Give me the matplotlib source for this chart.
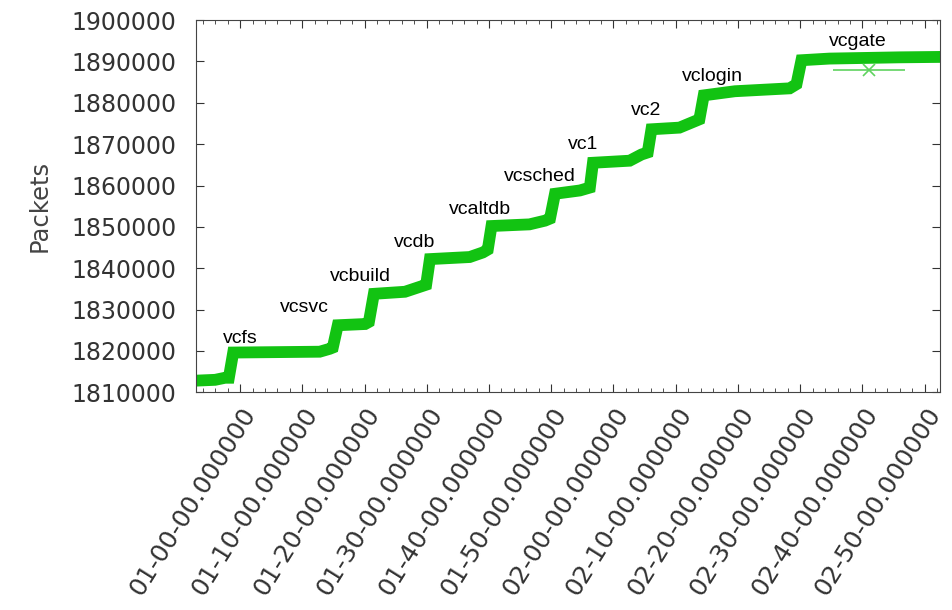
import matplotlib.pyplot as plt

# time in minutes after 01-00-00, packets
minutes = [-7.1, -4.0, -2.4, -1.8, -1.1, 12.8, 14.4, 14.9, 15.7, 20.1, 20.7, 21.5,
           26.5, 28.9, 29.9, 30.5, 36.9, 39.0, 39.8, 40.4, 46.5, 49.0, 49.8, 50.6,
           54.6, 56.2, 56.7, 62.6, 64.5, 65.5, 66.1, 70.6, 73.0, 73.8, 74.5, 79.5,
           88.3, 89.4, 90.2, 94.7, 105.9, 112.4]
packets = [1812800, 1813000, 1813500, 1813500, 1819600, 1819800, 1820500, 1820800,
           1826200, 1826500, 1827000, 1833800, 1834300, 1835500, 1836000, 1842200,
           1842700, 1843800, 1844500, 1850200, 1850600, 1851500, 1852000, 1858000,
           1858800, 1859500, 1865500, 1866000, 1867500, 1868000, 1873600, 1874000,
           1875500, 1876000, 1881800, 1882800, 1883500, 1884500, 1890300, 1890700,
           1891000, 1891100]

labels = ['vcfs', 'vcsvc', 'vcbuild', 'vcdb', 'vcaltdb', 'vcsched', 'vc1', 'vc2',
          'vclogin', 'vcgate']
label_min = [0, 10.4, 19.3, 28.1, 38.5, 48.2, 55.1, 65.3, 75.9, 99.2]
label_val = [1823075, 1830580, 1838090, 1846320, 1854310, 1862060, 1869810,
             1878040, 1886270, 1894750]

# the odd lone point with horizontal bar
avg_min = 101.1
avg_val = 1888000
avg_err = 5.8

xtick_pos = [0, 10, 20, 30, 40, 50, 60, 70, 80, 90, 100, 110]
xtick_lab = ['01-00-00.000000', '01-10-00.000000', '01-20-00.000000',
             '01-30-00.000000', '01-40-00.000000', '01-50-00.000000',
             '02-00-00.000000', '02-10-00.000000', '02-20-00.000000',
             '02-30-00.000000', '02-40-00.000000', '02-50-00.000000']
ytick_pos = list(range(1810000, 1900001, 10000))

fig = plt.figure(figsize=(9.52, 6.10), dpi=100)
ax = fig.add_axes([0.206, 0.357, 0.781, 0.610])

ax.plot([minutes[0], minutes[-1]], [packets[0], packets[-1]], 'x', color='#e03020',
        ms=6, mew=1.2, zorder=1)
ax.plot(minutes, packets, color='#12c312', lw=8.5, solid_joinstyle='miter', zorder=2)
ax.errorbar([avg_min], [avg_val], xerr=[avg_err], fmt='x', color='#5fd35f', ms=9,
            mew=1.2, elinewidth=1.2, capsize=0, zorder=3)

for t, xm, yv in zip(labels, label_min, label_val):
    ax.text(xm, yv, t, ha='center', va='center', fontsize=14,
            family='Liberation Sans', color='black')

ax.set_xlim(-7.06, 112.4)
ax.set_ylim(1810000, 1900000)
ax.set_yticks(ytick_pos)
ax.set_yticklabels([str(v) for v in ytick_pos])
ax.set_xticks(xtick_pos)
ax.set_xticklabels(xtick_lab, rotation=58, ha='right', va='top', rotation_mode='anchor')
ax.set_xticks(range(-6, 113, 2), minor=True)

ax.tick_params(axis='both', which='both', direction='in', top=True, right=True,
               colors='#333333', labelcolor='#333333')
ax.tick_params(axis='y', labelsize=17, length=6, pad=14)
ax.tick_params(axis='x', which='major', labelsize=18, length=6, pad=8)
ax.tick_params(axis='x', which='minor', length=3)
for s in ax.spines.values():
    s.set_color('#444444')

ax.set_ylabel('Packets', fontsize=17.5, color='#444444', labelpad=14)

fig.savefig('out.png', dpi=100)
